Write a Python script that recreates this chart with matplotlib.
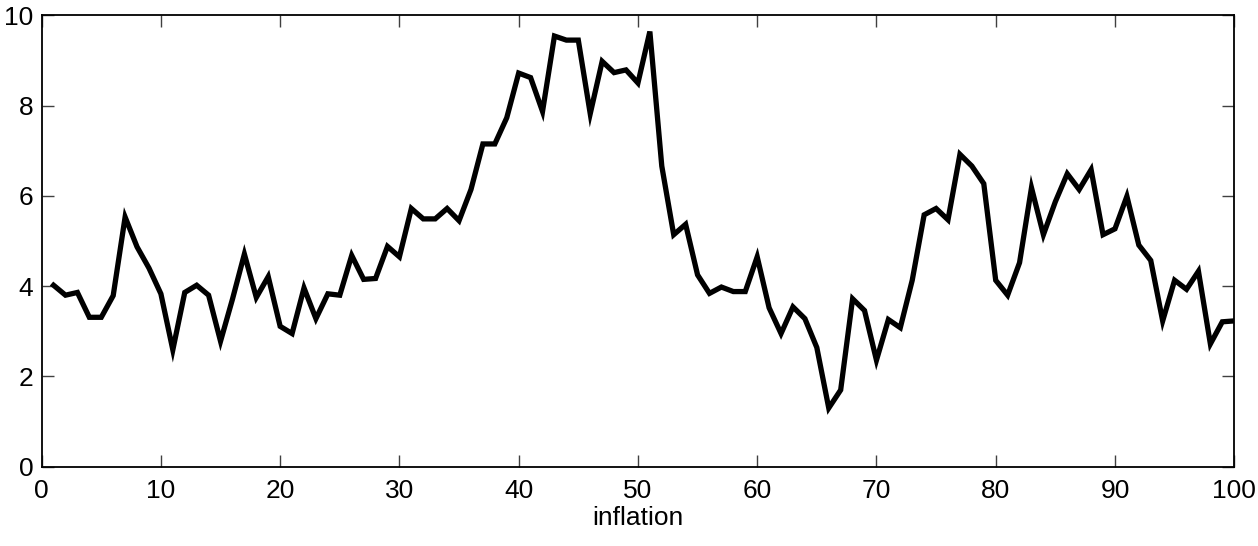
import matplotlib
matplotlib.use("Agg")
from matplotlib import pyplot as plt
import numpy as np

plt.rcParams['font.family'] = ['Liberation Sans', 'DejaVu Sans']

# quarter index and inflation values
quarters = list(range(1, 101))
inflation = [
    4.02, 3.80, 3.86, 3.31, 3.31, 3.79, 5.53, 4.87, 4.40, 3.83,
    2.59, 3.86, 4.02, 3.80, 2.78, 3.71, 4.71, 3.75, 4.21, 3.11,
    2.95, 3.96, 3.28, 3.83, 3.80, 4.68, 4.15, 4.17, 4.88, 4.65,
    5.72, 5.49, 5.49, 5.72, 5.45, 6.14, 7.15, 7.15, 7.73, 8.72,
    8.62, 7.87, 9.54, 9.45, 9.45, 7.82, 8.98, 8.73, 8.79, 8.50,
    9.64, 6.66, 5.14, 5.37, 4.25, 3.84, 3.98, 3.88, 3.88, 4.65,
    3.52, 2.95, 3.54, 3.28, 2.64, 1.30, 1.70, 3.72, 3.46, 2.36,
    3.26, 3.08, 4.13, 5.58, 5.72, 5.47, 6.92, 6.66, 6.27, 4.13,
    3.80, 4.52, 6.18, 5.14, 5.87, 6.49, 6.14, 6.58, 5.14, 5.27,
    5.99, 4.91, 4.57, 3.23, 4.13, 3.93, 4.33, 2.72, 3.21, 3.23,
]
xticks = [0, 10, 20, 30, 40, 50, 60, 70, 80, 90, 100]
yticks = [0, 2, 4, 6, 8, 10]

fig = plt.figure(figsize=(12.58, 5.46), dpi=100)
ax = fig.add_axes([0.0331, 0.1452, 0.948, 0.8268])

ax.plot(quarters, inflation, color="black", linewidth=3.8, solid_joinstyle="miter")

ax.set_xlim(0, 100)
ax.set_ylim(0, 10)
ax.set_xticks(xticks)
ax.set_yticks(yticks)
ax.tick_params(direction="in", length=8.5, width=1, color="#404040",
               top=True, right=True, labelsize=19)
ax.tick_params(axis="x", pad=9)
ax.tick_params(axis="y", pad=6)
for s in ax.spines.values():
    s.set_linewidth(1.3)
ax.set_xlabel("inflation", fontsize=19, labelpad=2)

fig.savefig("out.png", dpi=100)
